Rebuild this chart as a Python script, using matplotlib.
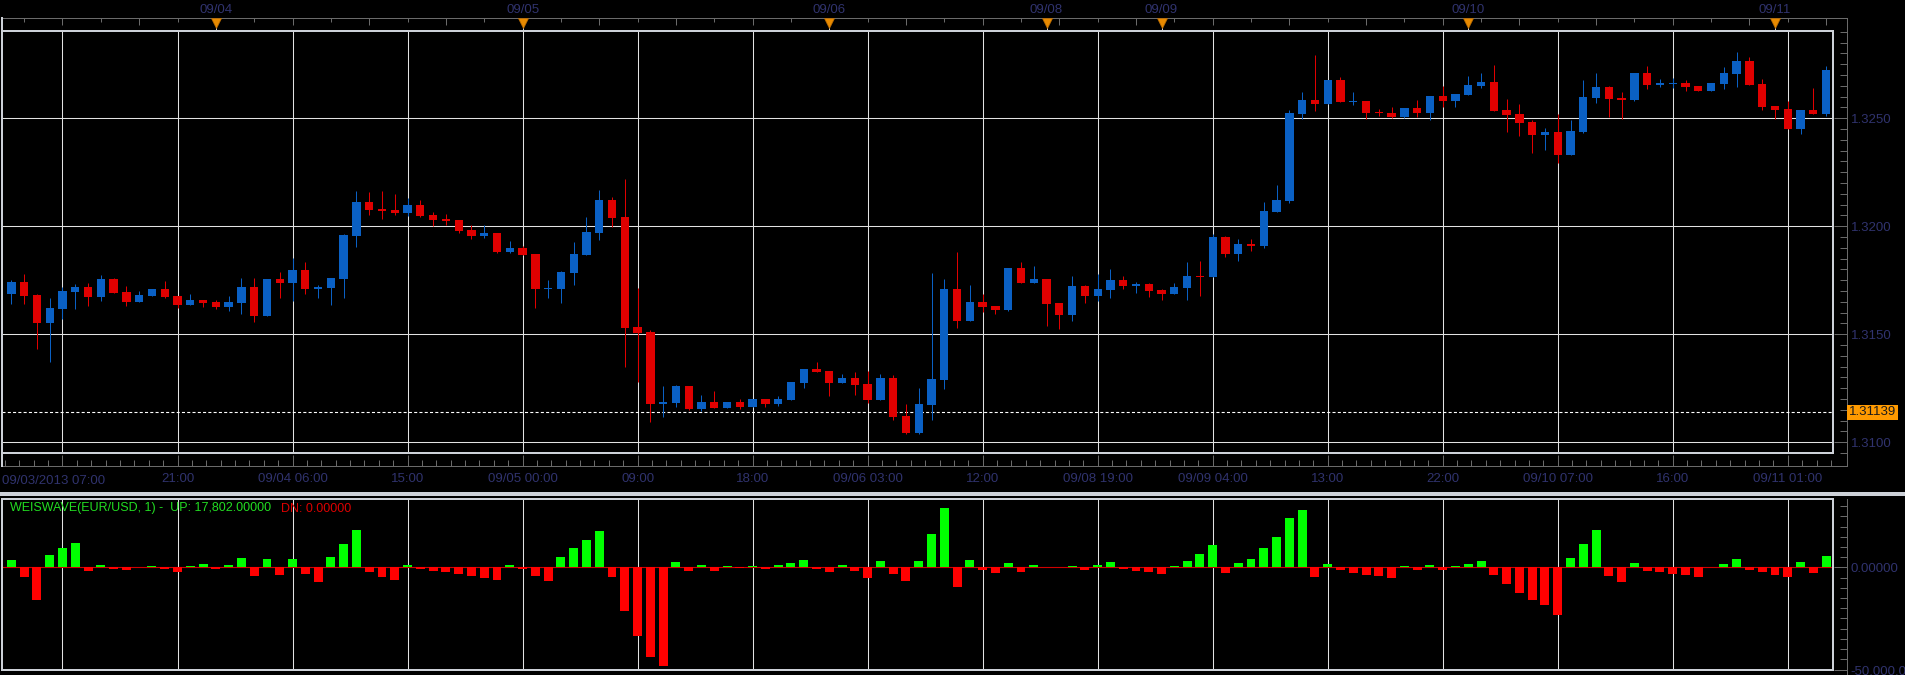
import numpy as np
import matplotlib
matplotlib.use("Agg")
import matplotlib.pyplot as plt
from matplotlib.patches import Rectangle
from matplotlib.ticker import FixedLocator, MultipleLocator, NullFormatter
import matplotlib.transforms as mtrans

plt.rcParams['font.family'] = ['Liberation Sans', 'DejaVu Sans']
plt.rcParams['lines.scale_dashes'] = False

# ---------------- data (hourly EUR/USD bars) ----------------
open_ = [1.31736, 1.31687, 1.31742, 1.31682, 1.31552, 1.31617, 1.31696, 1.31719, 1.31673, 1.31756,
         1.31696, 1.31650, 1.31677, 1.31710, 1.31677, 1.31636, 1.31659, 1.31650, 1.31627, 1.31645,
         1.31719, 1.31585, 1.31756, 1.31738, 1.31798, 1.31710, 1.31715, 1.31756, 1.31955, 1.32113,
         1.32080, 1.32076, 1.32062, 1.32099, 1.32052, 1.32034, 1.32029, 1.31983, 1.31955, 1.31969,
         1.31881, 1.31900, 1.31872, 1.31710, 1.31710, 1.31784, 1.31867, 1.31969, 1.32122, 1.32043,
         1.31534, 1.31511, 1.31177, 1.31182, 1.31261, 1.31154, 1.31187, 1.31159, 1.31187, 1.31164,
         1.31201, 1.31177, 1.31196, 1.31275, 1.31340, 1.31330, 1.31275, 1.31298, 1.31270, 1.31196,
         1.31298, 1.31122, 1.31043, 1.31173, 1.31289, 1.31710, 1.31562, 1.31650, 1.31631, 1.31613,
         1.31807, 1.31738, 1.31756, 1.31645, 1.31590, 1.31724, 1.31677, 1.31705, 1.31752, 1.31724,
         1.31733, 1.31705, 1.31687, 1.31715, 1.31770, 1.31765, 1.31951, 1.31873, 1.31918, 1.31909,
         1.32066, 1.32117, 1.32520, 1.32585, 1.32566, 1.32677, 1.32576, 1.32580, 1.32531, 1.32525,
         1.32506, 1.32548, 1.32525, 1.32603, 1.32580, 1.32608, 1.32650, 1.32668, 1.32539, 1.32520,
         1.32483, 1.32423, 1.32437, 1.32330, 1.32437, 1.32594, 1.32645, 1.32594, 1.32585, 1.32710,
         1.32654, 1.32659, 1.32664, 1.32650, 1.32627, 1.32659, 1.32705, 1.32765, 1.32659, 1.32557,
         1.32543, 1.32451, 1.32539, 1.32520]
high = [1.31744, 1.31752, 1.31779, 1.31687, 1.31668, 1.31719, 1.31733, 1.31738, 1.31775, 1.31761,
        1.31724, 1.31701, 1.31710, 1.31747, 1.31677, 1.31687, 1.31659, 1.31659, 1.31677, 1.31761,
        1.31761, 1.31756, 1.31789, 1.31853, 1.31835, 1.31728, 1.31761, 1.31965, 1.32164, 1.32159,
        1.32164, 1.32150, 1.32131, 1.32122, 1.32066, 1.32057, 1.32029, 1.32006, 1.32006, 1.31969,
        1.31932, 1.31909, 1.31872, 1.31752, 1.31793, 1.31927, 1.32043, 1.32168, 1.32136, 1.32219,
        1.31715, 1.31520, 1.31261, 1.31265, 1.31261, 1.31219, 1.31238, 1.31187, 1.31201, 1.31201,
        1.31201, 1.31215, 1.31279, 1.31340, 1.31372, 1.31330, 1.31316, 1.31326, 1.31330, 1.31316,
        1.31312, 1.31177, 1.31252, 1.31784, 1.31756, 1.31881, 1.31728, 1.31687, 1.31631, 1.31807,
        1.31835, 1.31816, 1.31756, 1.31645, 1.31770, 1.31728, 1.31779, 1.31802, 1.31770, 1.31742,
        1.31738, 1.31710, 1.31738, 1.31835, 1.31840, 1.31963, 1.31955, 1.31941, 1.31941, 1.32113,
        1.32191, 1.32539, 1.32622, 1.32793, 1.32677, 1.32691, 1.32622, 1.32580, 1.32543, 1.32552,
        1.32548, 1.32585, 1.32603, 1.32650, 1.32613, 1.32696, 1.32710, 1.32747, 1.32590, 1.32566,
        1.32492, 1.32455, 1.32520, 1.32492, 1.32677, 1.32710, 1.32650, 1.32622, 1.32710, 1.32742,
        1.32682, 1.32687, 1.32677, 1.32650, 1.32664, 1.32738, 1.32807, 1.32784, 1.32682, 1.32557,
        1.32580, 1.32539, 1.32640, 1.32742]
low = [1.31682, 1.31640, 1.31640, 1.31432, 1.31372, 1.31571, 1.31617, 1.31631, 1.31654, 1.31691,
       1.31631, 1.31650, 1.31677, 1.31668, 1.31622, 1.31636, 1.31627, 1.31617, 1.31608, 1.31594,
       1.31557, 1.31585, 1.31668, 1.31654, 1.31687, 1.31668, 1.31636, 1.31668, 1.31904, 1.32052,
       1.32034, 1.32052, 1.32048, 1.32043, 1.32002, 1.32006, 1.31969, 1.31941, 1.31946, 1.31877,
       1.31877, 1.31867, 1.31622, 1.31668, 1.31645, 1.31728, 1.31867, 1.31937, 1.31997, 1.31349,
       1.31279, 1.31094, 1.31117, 1.31164, 1.31150, 1.31145, 1.31159, 1.31159, 1.31154, 1.31164,
       1.31164, 1.31168, 1.31196, 1.31252, 1.31326, 1.31215, 1.31275, 1.31219, 1.31182, 1.31196,
       1.31103, 1.31039, 1.31039, 1.31103, 1.31247, 1.31529, 1.31562, 1.31603, 1.31594, 1.31608,
       1.31738, 1.31738, 1.31539, 1.31525, 1.31562, 1.31645, 1.31654, 1.31668, 1.31710, 1.31691,
       1.31673, 1.31659, 1.31687, 1.31659, 1.31677, 1.31765, 1.31858, 1.31840, 1.31886, 1.31900,
       1.32066, 1.32108, 1.32497, 1.32534, 1.32566, 1.32576, 1.32562, 1.32497, 1.32512, 1.32502,
       1.32502, 1.32506, 1.32492, 1.32552, 1.32552, 1.32608, 1.32640, 1.32534, 1.32437, 1.32418,
       1.32340, 1.32353, 1.32293, 1.32330, 1.32432, 1.32571, 1.32506, 1.32497, 1.32580, 1.32636,
       1.32645, 1.32640, 1.32627, 1.32627, 1.32627, 1.32636, 1.32645, 1.32654, 1.32539, 1.32497,
       1.32451, 1.32427, 1.32520, 1.32511]
close = [1.31687, 1.31742, 1.31677, 1.31552, 1.31622, 1.31701, 1.31719, 1.31673, 1.31756, 1.31691,
         1.31650, 1.31682, 1.31710, 1.31673, 1.31636, 1.31659, 1.31645, 1.31627, 1.31650, 1.31719,
         1.31585, 1.31756, 1.31738, 1.31798, 1.31710, 1.31719, 1.31761, 1.31960, 1.32113, 1.32076,
         1.32071, 1.32062, 1.32099, 1.32048, 1.32029, 1.32025, 1.31978, 1.31955, 1.31969, 1.31881,
         1.31900, 1.31867, 1.31710, 1.31715, 1.31789, 1.31872, 1.31974, 1.32122, 1.32039, 1.31529,
         1.31506, 1.31177, 1.31187, 1.31261, 1.31154, 1.31187, 1.31159, 1.31187, 1.31164, 1.31201,
         1.31177, 1.31201, 1.31279, 1.31340, 1.31326, 1.31275, 1.31298, 1.31265, 1.31196, 1.31298,
         1.31117, 1.31043, 1.31177, 1.31293, 1.31710, 1.31562, 1.31650, 1.31627, 1.31613, 1.31807,
         1.31738, 1.31756, 1.31640, 1.31590, 1.31724, 1.31677, 1.31710, 1.31752, 1.31724, 1.31733,
         1.31701, 1.31687, 1.31719, 1.31770, 1.31765, 1.31951, 1.31873, 1.31918, 1.31910, 1.32071,
         1.32122, 1.32525, 1.32585, 1.32566, 1.32677, 1.32576, 1.32580, 1.32525, 1.32522, 1.32506,
         1.32548, 1.32525, 1.32603, 1.32580, 1.32613, 1.32654, 1.32668, 1.32534, 1.32515, 1.32478,
         1.32423, 1.32437, 1.32330, 1.32441, 1.32599, 1.32645, 1.32590, 1.32585, 1.32710, 1.32654,
         1.32664, 1.32664, 1.32645, 1.32627, 1.32664, 1.32710, 1.32765, 1.32654, 1.32552, 1.32539,
         1.32451, 1.32539, 1.32520, 1.32724]

# Weis wave volume per bar
wave = [-5800, 3600, -4700, -15800, 6000, 9500, 11900, -1600, 1000, -650,
        -1150, 300, 650, -650, -2100, 650, 1600, -650, 1150, 4600,
        -4100, 4100, -3800, 4100, -3100, -7000, 5100, 11400, 18300, -2100,
        -4700, -6200, 1150, -650, -1600, -2100, -3100, -4100, -5200, -6200,
        1150, -650, -4100, -6700, 5100, 9500, 13400, 17800, -4700, -21400,
        -33500, -44000, -48200, 2600, -1600, 1150, -1600, 650, -200, 650,
        -650, 1150, 2100, 3600, -650, -2100, 1150, -1600, -5100, 3100,
        -3100, -6500, 3100, 16300, 29100, -9500, 3600, -1150, -2600, 2100,
        -2100, 1150, 0, 0, 650, -1150, 1150, 2600, -650, -1600,
        -2100, -3100, 650, 3100, 6500, 10900, -2600, 2100, 4100, 9500,
        14900, 24200, 28100, -4700, 1600, -1150, -2600, -3600, -4100, -5100,
        650, -1150, 1150, -1150, 650, 1600, 3100, -3600, -8000, -12400,
        -15800, -18300, -23200, 4600, 11400, 18300, -4100, -7000, 2100, -1600,
        -2100, -3100, -3600, -4600, 0, 1600, 4100, -1150, -2100, -3600,
        -4600, 2600, -2600, 5600]

grid_idx = [5, 14, 23, 32, 41, 50, 59, 68, 77, 86, 95, 104, 113, 122, 131, 140]
time_labels = ["", "21:00", "09/04 06:00", "15:00", "09/05 00:00", "09:00", "18:00",
               "09/06 03:00", "12:00", "09/08 19:00", "09/09 04:00", "13:00", "22:00",
               "09/10 07:00", "16:00", "09/11 01:00"]
first_label = "09/03/2013 07:00"
date_idx = [17, 41, 65, 82, 91, 115, 139]
date_labels = ["09/04", "09/05", "09/06", "09/08", "09/09", "09/10", "09/11"]
price_ticks = [1.3100, 1.3150, 1.3200, 1.3250]
price_labels = ["1.3100", "1.3150", "1.3200", "1.3250"]
marker_price = 1.31139
marker_label = "1.31139"
wave_ticks = [0, -50000]
wave_labels = ["0.00000", "-50,000.00000"]
legend_up = "WEISWAVE(EUR/USD, 1) -  UP: 17,802.00000"
legend_dn = "DN: 0.00000"

# ---------------- styling / layout ----------------
W, H, DPI = 1905, 675, 100
PT = 72.0 / DPI
BG = 'black'
NAVY = '#30336e'
AXC = '#6a6a6a'
BORDER = '#cdd1d8'
GRID = '#e2e2e2'
BLUE = '#0a60c4'
RED = '#e00000'
HG = '#00ff00'
HR = '#ff0000'

P_LEFT, P_RIGHT = 2, 1833
P_TOP, P_BOT = 31, 453
L_TOP, L_BOT = 499, 669.5
AX_X = 1847
TOP_LINE, BOT_LINE = 18, 466
SEP_Y = 494
X_MIN, X_MAX = 0.266, 143.54


def fx(px):
    return px / W


def fy(py):
    return 1 - py / H


fig = plt.figure(figsize=(W / DPI, H / DPI), dpi=DPI, facecolor=BG)

# decoration layer in pixel units
deco = fig.add_axes([0, 0, 1, 1])
deco.set_xlim(0, W)
deco.set_ylim(H, 0)
deco.axis('off')
deco.plot([P_LEFT, AX_X], [TOP_LINE, TOP_LINE], color=AXC, lw=PT)
deco.plot([AX_X, AX_X], [TOP_LINE, BOT_LINE], color=AXC, lw=PT)
deco.plot([P_LEFT, AX_X], [BOT_LINE, BOT_LINE], color=AXC, lw=PT)
deco.plot([AX_X, AX_X], [L_TOP, H], color=AXC, lw=PT)
deco.plot([P_LEFT, P_LEFT], [TOP_LINE, BOT_LINE], color=BORDER, lw=2 * PT)
deco.plot([0, W], [SEP_Y, SEP_Y], color=BORDER, lw=4 * PT)

# ---------------- price panel ----------------
ax = fig.add_axes([fx(P_LEFT), fy(P_BOT), (P_RIGHT - P_LEFT) / W, (P_BOT - P_TOP) / H])
ax.set_facecolor(BG)
ax.set_xlim(X_MIN, X_MAX)
ax.set_ylim(1.30950, 1.32904)

o = np.array(open_)
h = np.array(high)
l = np.array(low)
c = np.array(close)
idx = np.arange(len(o))
cols = np.where(c > o, BLUE, RED)
px_price = (ax.get_ylim()[1] - ax.get_ylim()[0]) / (P_BOT - P_TOP)
body_b = np.minimum(o, c)
body_h = np.maximum(np.abs(c - o), px_price)
ax.vlines(idx, l, h, colors=cols, lw=PT, zorder=2)
ax.bar(idx, body_h, bottom=body_b, width=0.65, color=cols, lw=0, zorder=3)
ax.axhline(marker_price, color='white', lw=0.8, ls=(0, (2.2, 1.6)), zorder=1.5)

for s in ax.spines.values():
    s.set_visible(False)
ax.spines['bottom'].set_position(('outward', (BOT_LINE - P_BOT) * PT))
ax.spines['right'].set_position(('outward', (AX_X - P_RIGHT) * PT))
ax.yaxis.set_ticks_position('right')
ax.xaxis.set_ticks_position('bottom')
ax.set_yticks(price_ticks, labels=price_labels)
ax.yaxis.set_minor_locator(MultipleLocator(0.0005))
ax.set_xticks(grid_idx, labels=time_labels)
ax.xaxis.set_minor_locator(FixedLocator(np.arange(grid_idx[0] - 9, 146, 9 / 8)))
ax.tick_params(axis='y', which='major', direction='in', length=13 * PT, width=PT,
               color=AXC, labelcolor=NAVY, labelsize=9.5, pad=2.5)
ax.tick_params(axis='y', which='minor', direction='in', length=7 * PT, width=PT, color=AXC)
ax.tick_params(axis='x', which='major', direction='in', length=11 * PT, width=PT,
               color=AXC, labelcolor=NAVY, labelsize=9.5, pad=4.8)
ax.tick_params(axis='x', which='minor', direction='in', length=6 * PT, width=PT, color=AXC)
ax.grid(True, which='major', color=GRID, lw=0.75)
ax.set_axisbelow(True)
ax.add_patch(Rectangle((0, 0), 1, 1, transform=ax.transAxes, fill=False, ec=BORDER,
                       lw=2 * PT, clip_on=False, zorder=6))

# top time strip ticks
sec = ax.secondary_xaxis(1 + (P_TOP - TOP_LINE) / (P_BOT - P_TOP))
for s in sec.spines.values():
    s.set_visible(False)
sec.set_xticks(np.arange(grid_idx[0], 146, 6))
sec.xaxis.set_major_formatter(NullFormatter())
sec.xaxis.set_minor_locator(FixedLocator(np.arange(grid_idx[0] - 3, 146, 3)))
sec.tick_params(axis='x', which='major', direction='in', length=7 * PT, width=PT, color=AXC)
sec.tick_params(axis='x', which='minor', direction='in', length=3.5 * PT, width=PT, color=AXC)

tr_top = mtrans.blended_transform_factory(ax.transData, fig.transFigure)
for i, lab in zip(date_idx, date_labels):
    ax.text(i, fy(13.3), lab, transform=tr_top, ha='center', va='baseline',
            color=NAVY, fontsize=9.5, clip_on=False)
ax.vlines(date_idx, fy(31), fy(25), transform=tr_top, colors='#cfcfcf', lw=PT,
          clip_on=False, zorder=6)
ax.plot(date_idx, [fy(22.5)] * len(date_idx), transform=tr_top, ls='none', marker='v',
        ms=6.5, mfc='#e88a00', mec='#b86a00', mew=0.5, clip_on=False, zorder=7)

fig.text(fx(P_LEFT), fy(484.3), first_label, ha='left', va='baseline', color=NAVY, fontsize=9.5)

tr_price = mtrans.blended_transform_factory(fig.transFigure, ax.transData)
ax.text(fx(AX_X + 2), marker_price, marker_label, transform=tr_price, ha='left', va='center',
        fontsize=9.5, color='#1a1a1a', clip_on=False, zorder=8,
        bbox=dict(boxstyle='square,pad=0.12', fc='#ff9a00', ec='none'))

# ---------------- Weis wave panel ----------------
ax2 = fig.add_axes([fx(P_LEFT), fy(L_BOT), (P_RIGHT - P_LEFT) / W, (L_BOT - L_TOP) / H])
ax2.set_facecolor(BG)
ax2.set_xlim(X_MIN, X_MAX)
ax2.set_ylim(-50000, 33500)
wv = np.array(wave)
hcols = np.where(wv > 0, HG, HR)
ax2.bar(np.arange(len(wv)), wv, width=0.7, color=hcols, lw=0, zorder=3)
ax2.axhline(0, color='#d00000', lw=0.8, zorder=2)
for s in ax2.spines.values():
    s.set_visible(False)
ax2.spines['right'].set_position(('outward', (AX_X - P_RIGHT) * PT))
ax2.yaxis.set_ticks_position('right')
ax2.set_yticks(wave_ticks, labels=wave_labels)
ax2.yaxis.set_minor_locator(MultipleLocator(5000))
ax2.tick_params(axis='y', which='major', direction='in', length=13 * PT, width=PT,
                color=AXC, labelcolor=NAVY, labelsize=9.5, pad=2.5)
ax2.tick_params(axis='y', which='minor', direction='in', length=7 * PT, width=PT, color=AXC)
ax2.set_xticks(grid_idx)
ax2.tick_params(axis='x', which='both', length=0, labelbottom=False)
ax2.grid(True, axis='x', which='major', color=GRID, lw=0.75)
ax2.set_axisbelow(True)
ax2.add_patch(Rectangle((0, 0), 1, 1, transform=ax2.transAxes, fill=False, ec=BORDER,
                        lw=2 * PT, clip_on=False, zorder=6))

fig.text(fx(10), fy(511.5), legend_up, ha='left', va='baseline', color='#22dd22', fontsize=9)
fig.text(fx(281), fy(511.5), legend_dn, ha='left', va='baseline', color='#dd0000', fontsize=9)

fig.savefig('out.png', dpi=DPI, facecolor=BG)
